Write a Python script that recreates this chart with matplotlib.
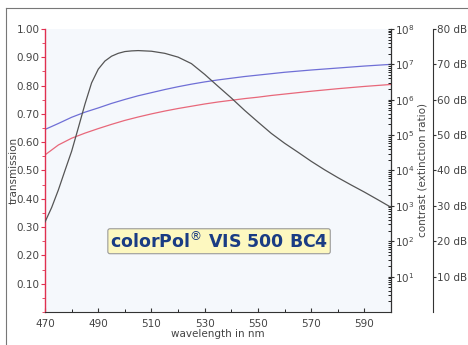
import matplotlib.pyplot as plt
from matplotlib.lines import Line2D
from matplotlib.ticker import MultipleLocator, LogLocator, NullFormatter

# wavelength grid (nm) for transmission curves
wl = [470, 475, 480, 485, 490, 495, 500, 505, 510, 515, 520, 525, 530,
      535, 540, 545, 550, 555, 560, 570, 580, 590, 600]
# transmission, parallel (blue) and single (red)
t_blue = [0.645, 0.666, 0.688, 0.706, 0.721, 0.737, 0.751, 0.764, 0.775,
          0.786, 0.796, 0.805, 0.813, 0.820, 0.826, 0.832, 0.837, 0.842,
          0.847, 0.855, 0.862, 0.869, 0.875]
t_red = [0.555, 0.590, 0.614, 0.632, 0.648, 0.663, 0.677, 0.689, 0.700,
         0.710, 0.719, 0.727, 0.735, 0.742, 0.748, 0.754, 0.759, 0.765,
         0.770, 0.780, 0.789, 0.797, 0.804]
# contrast (extinction ratio)
wl_c = [470, 472.5, 475, 477.5, 480, 482.5, 485, 487.5, 490, 492.5, 495,
        497.5, 500, 502.5, 505, 510, 515, 520, 525, 530, 535, 540, 545,
        550, 555, 560, 565, 570, 575, 580, 585, 590, 595, 600]
contrast = [3.5e2, 9.0e2, 2.8e3, 1.0e4, 3.5e4, 1.6e5, 7.5e5, 3.0e6, 7.3e6,
            1.24e7, 1.7e7, 2.05e7, 2.3e7, 2.4e7, 2.45e7, 2.35e7, 2.05e7,
            1.6e7, 1.05e7, 5.2e6, 2.4e6, 1.12e6, 5.0e5, 2.35e5, 1.12e5,
            5.9e4, 3.3e4, 1.82e4, 1.05e4, 6.3e3, 3.9e3, 2.45e3, 1.5e3, 9.1e2]

x_ticks = [470, 490, 510, 530, 550, 570, 590]
y_ticks = [0.1, 0.2, 0.3, 0.4, 0.5, 0.6, 0.7, 0.8, 0.9, 1.0]
db_ticks = [10, 20, 30, 40, 50, 60, 70, 80]

txt = '#444444'
fig = plt.figure(figsize=(4.68, 3.45), dpi=100)
ax = fig.add_axes([0.0962, 0.0957, 0.7393, 0.8203])
ax.set_facecolor('#f5f8fc')

ax.plot(wl, t_blue, color='#6f6fd6', lw=0.9)
ax.plot(wl, t_red, color='#e8687a', lw=0.9)
ax.set_xlim(470, 600)
ax.set_ylim(0, 1.0)
ax.set_xticks(x_ticks)
ax.xaxis.set_minor_locator(MultipleLocator(10))
ax.set_yticks(y_ticks)
ax.set_yticklabels(['%.2f' % v for v in y_ticks])
ax.yaxis.set_minor_locator(MultipleLocator(0.05))
ax.tick_params(axis='x', direction='in', length=3, colors='#333333',
               labelcolor=txt, labelsize=7.5, pad=5)
ax.tick_params(axis='x', which='minor', direction='in', length=2)
ax.tick_params(axis='y', direction='out', length=3, color='#e03050',
               labelcolor=txt, labelsize=7.5, pad=1)
ax.tick_params(axis='y', which='minor', direction='out', length=2, color='#e03050')
ax.spines['left'].set_color('#e03050')
ax.spines['left'].set_linewidth(1.0)
ax.spines['top'].set_visible(False)
ax.spines['bottom'].set_color('#333333')
ax.set_xlabel('wavelength in nm', fontsize=7.5, color=txt, labelpad=0)
ax.set_ylabel('transmission', fontsize=7.5, color=txt)
ax.yaxis.set_label_coords(-0.076, 0.5)

# contrast on log axis
ax2 = ax.twinx()
ax2.plot(wl_c, contrast, color='#555555', lw=0.9)
ax2.set_yscale('log')
ax2.set_ylim(1, 1e8)
ax2.yaxis.set_minor_locator(LogLocator(base=10, subs=range(2, 10), numticks=20))
ax2.yaxis.set_minor_formatter(NullFormatter())
ax2.set_yticks([10 ** k for k in range(1, 9)])
ax2.set_yticklabels([r'$10^{%d}$' % k for k in range(1, 9)])
ax2.tick_params(axis='y', direction='inout', length=4, colors='#333333',
                labelcolor=txt, labelsize=7.5, pad=1)
ax2.tick_params(axis='y', which='minor', direction='in', length=2)
for s in ['top', 'left', 'bottom']:
    ax2.spines[s].set_visible(False)
ax2.spines['right'].set_color('#333333')
ax2.set_ylabel('contrast (extinction ratio)', fontsize=7.5, color=txt, labelpad=2)

# dB axis
ax3 = ax.twinx()
ax3.set_ylim(0, 80)
ax3.spines['right'].set_position(('axes', 1.121))
for s in ['top', 'left', 'bottom']:
    ax3.spines[s].set_visible(False)
ax3.spines['right'].set_color('#333333')
ax3.set_yticks(db_ticks)
ax3.set_yticklabels(['%d dB' % v for v in db_ticks])
ax3.tick_params(axis='y', direction='out', length=2, colors='#333333',
                labelcolor=txt, labelsize=7.5, pad=1)

ax.text(0.503, 0.25, 'colorPol$^{\u00ae}$ VIS 500 BC4', transform=ax.transAxes,
        ha='center', va='center', fontsize=12.5, fontweight='bold', color='#1a3c84',
        bbox=dict(boxstyle='round,pad=0.12', fc='#fdf8c0', ec='#9a9a9a', lw=0.8))

# outer frame lines
fig.add_artist(Line2D([6 / 468, 6 / 468], [0, 1 - 8 / 345], color='#777777', lw=0.8))
fig.add_artist(Line2D([6 / 468, 1], [1 - 8 / 345, 1 - 8 / 345], color='#777777', lw=0.8))

fig.savefig('out.png', dpi=100)
